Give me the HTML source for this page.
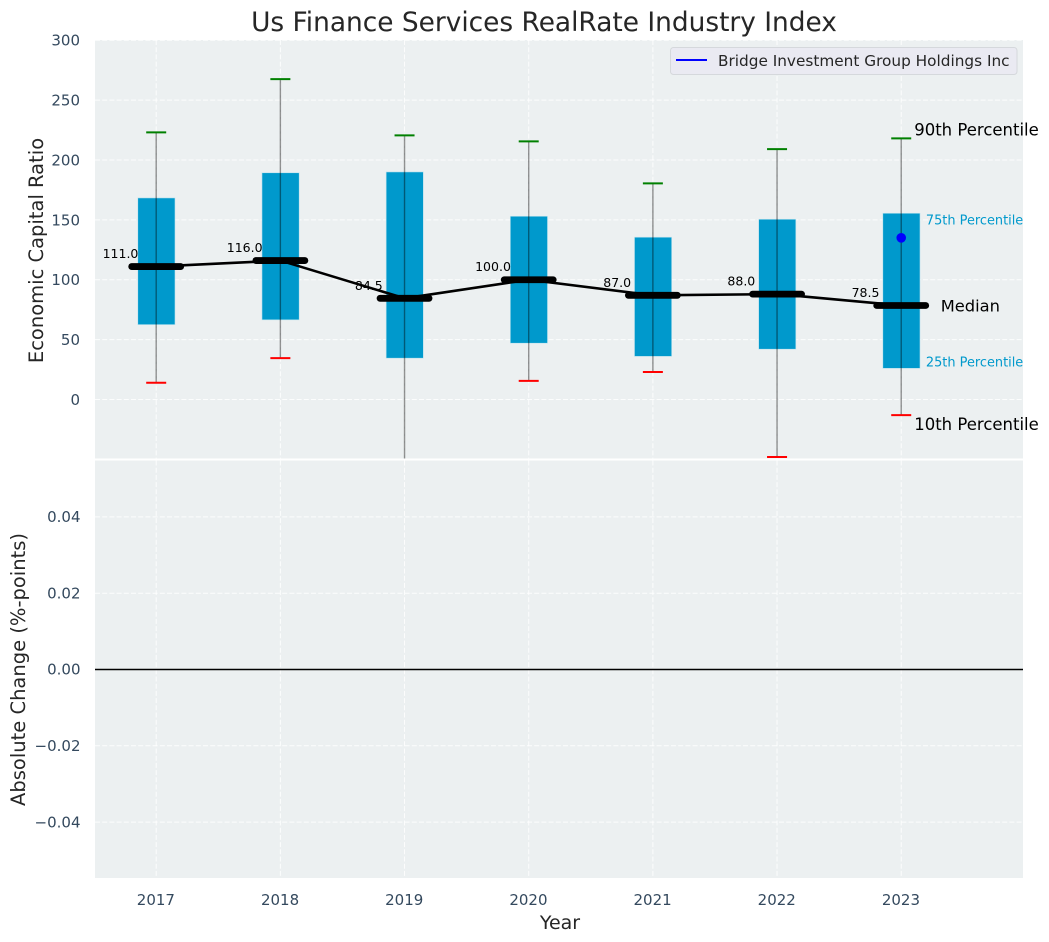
<!DOCTYPE html>
<html>
<head>
<meta charset="utf-8">
<title>Us Finance Services RealRate Industry Index</title>
<style>
html,body{margin:0;padding:0;background:#fff;}
svg{display:block;font-family:"DejaVu Sans","Liberation Sans",sans-serif;}
</style>
</head>
<body>
<svg id="chart" xmlns="http://www.w3.org/2000/svg" width="1049" height="942" viewBox="0 0 1049 942">
  <defs>
    <clipPath id="top-clip"><rect x="95" y="40" width="928" height="418.5"></rect></clipPath>
  </defs>
  <text x="544" y="31" text-anchor="middle" font-size="26.4" fill="#262626">Us Finance Services RealRate Industry Index</text>
  <rect x="95" y="40" width="928" height="418.5" fill="#ecf0f1"></rect>
  <rect x="95" y="460.5" width="928" height="417.5" fill="#ecf0f1"></rect>
  <g id="grid"></g>
  <g id="ticks"></g>
  <g id="boxes" clip-path="url(#top-clip)"></g>
  <g id="median-layer"></g>
  <g id="annotations"></g>
  <line x1="95" x2="1023" y1="669.5" y2="669.5" stroke="#000" stroke-width="1.5"></line>
  <text transform="translate(43,250.5) rotate(-90)" text-anchor="middle" font-size="19.5" fill="#262626">Economic Capital Ratio</text>
  <text transform="translate(25,669.5) rotate(-90)" text-anchor="middle" font-size="19.5" fill="#262626">Absolute Change (%-points)</text>
  <text x="560" y="929" text-anchor="middle" font-size="19" fill="#262626">Year</text>
  <g>
    <rect x="670.5" y="47.5" width="346.5" height="27" rx="3" fill="#eaeaf2" stroke="#d5d8dc" stroke-width="1"></rect>
    <line x1="676" x2="707" y1="60" y2="60" stroke="#0000ff" stroke-width="2"></line>
    <text x="718" y="66" font-size="15.3" fill="#262626">Bridge Investment Group Holdings Inc</text>
  </g>
</svg>
<script>
const years = [2017, 2018, 2019, 2020, 2021, 2022, 2023];
const p90 = [223, 267.5, 220.5, 215.5, 180.5, 209, 218];
const p75 = [168.3, 189.3, 190, 153, 135.5, 150.5, 155.5];
const medians = [111, 116, 84.5, 100, 87, 88, 78.5];
const p25 = [62.5, 66.5, 34.5, 47, 36, 42, 26];
const p10 = [14, 34.5, -60, 15.5, 23, -48, -13];
const companyYears = [2023];
const companyValues = [135];
const topTicks = [0, 50, 100, 150, 200, 250, 300];
const bottomTicks = [-0.04, -0.02, 0, 0.02, 0.04];

const NS = 'http://www.w3.org/2000/svg';
function xScale(v) { return 156.2 + (v - 2017) * 124.17; }
function yTop(v) { return 399.5 - v * 1.1977; }
function yBottom(v) { return 669.5 - v * 3815; }
function make(parent, tag, attrs, text) {
  const el = document.createElementNS(NS, tag);
  for (const k in attrs) el.setAttribute(k, attrs[k]);
  if (text !== undefined) el.textContent = text;
  parent.appendChild(el);
  return el;
}
const gridG = document.getElementById('grid');
const ticksG = document.getElementById('ticks');
const boxesG = document.getElementById('boxes');
const medianG = document.getElementById('median-layer');
const annG = document.getElementById('annotations');
const dash = '5,2.2';
const tickColor = '#34495e';

years.forEach(function (yr) {
  const x = xScale(yr);
  const a = make(gridG, 'line', { x1: x, x2: x, y1: 40, y2: 458.5, stroke: '#fff', 'stroke-width': 1, 'stroke-opacity': 0.85, 'stroke-dasharray': dash });
  
  
  const b = make(gridG, 'line', { x1: x, x2: x, y1: 460.5, y2: 878, stroke: '#fff', 'stroke-width': 1, 'stroke-opacity': 0.85, 'stroke-dasharray': dash });
  
  
  const t = make(ticksG, 'text', { x: x - 0.3, y: 905, 'text-anchor': 'middle', 'font-size': 15, fill: tickColor }, String(yr));
  
  
});
topTicks.forEach(function (v) {
  const y = yTop(v);
  const g = make(gridG, 'line', { x1: 95, x2: 1023, y1: y, y2: y, stroke: '#fff', 'stroke-width': 1, 'stroke-opacity': 0.85, 'stroke-dasharray': dash });
  
  
  const t = make(ticksG, 'text', { x: 80, y: y + 5.5, 'text-anchor': 'end', 'font-size': 15, fill: tickColor }, String(v));
  
  
});
bottomTicks.forEach(function (v) {
  const y = yBottom(v);
  const g = make(gridG, 'line', { x1: 95, x2: 1023, y1: y, y2: y, stroke: '#fff', 'stroke-width': 1, 'stroke-opacity': 0.85, 'stroke-dasharray': dash });
  
  
  const label = (v < 0 ? '\u2212' : '') + Math.abs(v).toFixed(2);
  const t = make(ticksG, 'text', { x: 80.5, y: y + 5.2, 'text-anchor': 'end', 'font-size': 15, fill: tickColor }, label);
  
  
});

years.forEach(function (yr, i) {
  const x = xScale(yr);
  const box = make(boxesG, 'rect', { x: x - 18.4, y: yTop(p75[i]), width: 37.2, height: yTop(p25[i]) - yTop(p75[i]), fill: '#0099cc', stroke: '#bfe3ee', 'stroke-width': 0.6 });
  
  
  const w = make(boxesG, 'line', { x1: x, x2: x, y1: yTop(p90[i]), y2: yTop(p10[i]), stroke: '#000', 'stroke-opacity': 0.42, 'stroke-width': 1.4 });
  
  
  const c1 = make(boxesG, 'line', { x1: x - 10, x2: x + 10, y1: yTop(p90[i]), y2: yTop(p90[i]), stroke: '#008000', 'stroke-width': 2 });
  
  
  const c2 = make(boxesG, 'line', { x1: x - 10, x2: x + 10, y1: yTop(p10[i]), y2: yTop(p10[i]), stroke: '#ff0000', 'stroke-width': 2 });
  
  
});

years.forEach(function (yr, i) {
  const t = make(medianG, 'text', { x: xScale(yr) - 35.7, y: yTop(medians[i]) - 8.5, 'text-anchor': 'middle', 'font-size': 12.5, fill: '#000' }, medians[i].toFixed(1));
  
  
});
const pts = years.map(function (yr, i) { return xScale(yr) + ',' + yTop(medians[i]); }).join(' ');
const medianLine = make(medianG, 'polyline', { points: pts, fill: 'none', stroke: '#000', 'stroke-width': 2.6, 'stroke-linejoin': 'round' });


years.forEach(function (yr, i) {
  const x = xScale(yr);
  const m = make(medianG, 'line', { x1: x - 24.5, x2: x + 24.5, y1: yTop(medians[i]), y2: yTop(medians[i]), stroke: '#000', 'stroke-width': 6.8, 'stroke-linecap': 'round' });
  
  
});
companyYears.forEach(function (yr, i) {
  const d = make(medianG, 'circle', { cx: xScale(yr), cy: yTop(companyValues[i]), r: 4.8, fill: '#0000ff' });
  
  
});

const last = years.length - 1;
const lastX = xScale(years[last]);
const a90 = make(annG, 'text', { x: lastX + 13, y: yTop(p90[last]) - 3, 'font-size': 16.5, fill: '#000' }, '90th Percentile');


const a75 = make(annG, 'text', { x: lastX + 24.7, y: yTop(p75[last]) + 11.2, 'font-size': 12.9, fill: '#0099cc' }, '75th Percentile');


const aMed = make(annG, 'text', { x: lastX + 39.5, y: yTop(medians[last]) + 6, 'font-size': 16.3, fill: '#000' }, 'Median');


const a25 = make(annG, 'text', { x: lastX + 24.7, y: yTop(p25[last]) - 1.8, 'font-size': 12.9, fill: '#0099cc' }, '25th Percentile');


const a10 = make(annG, 'text', { x: lastX + 13, y: yTop(p10[last]) + 15, 'font-size': 16.5, fill: '#000' }, '10th Percentile');


</script>
</body>
</html>
